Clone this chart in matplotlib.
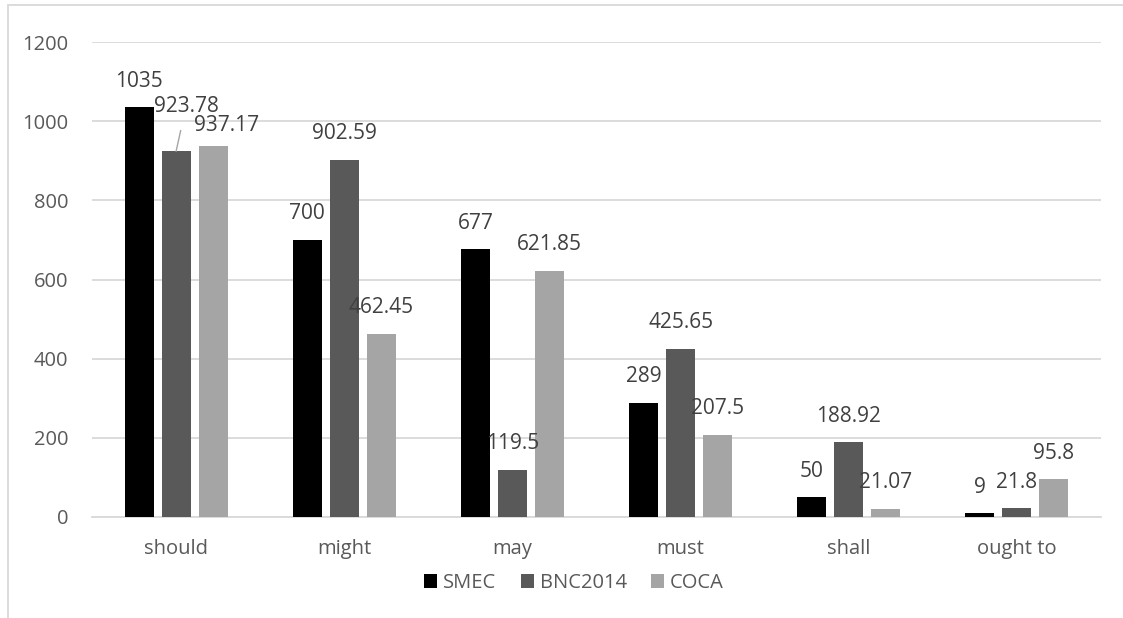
import matplotlib.pyplot as plt
from matplotlib.patches import Rectangle
import numpy as np

# data
modals = ["should", "might", "may", "must", "shall", "ought to"]
smec = [1035, 700, 677, 289, 50, 9]
bnc2014 = [923.78, 902.59, 119.5, 425.65, 188.92, 21.8]
coca = [937.17, 462.45, 621.85, 207.5, 21.07, 95.8]
series_names = ["SMEC", "BNC2014", "COCA"]
yticks = [0, 200, 400, 600, 800, 1000, 1200]


def main():
    plt.rcParams["font.family"] = ["Open Sans", "DejaVu Sans"]
    fig = plt.figure(figsize=(11.23, 6.18), dpi=100)
    ax = fig.add_axes([92 / 1123, (618 - 517) / 618, (1101 - 92) / 1123, (517 - 42) / 618])

    colors = ["#000000", "#595959", "#A5A5A5"]
    offsets = [-0.22, 0, 0.22]
    width = 0.173
    x = np.arange(len(modals))

    # labels that Excel moved by hand (offsets in pixels)
    moved = {(0, 1): (10, 45), (0, 2): (13, 21)}

    for s, vals in enumerate([smec, bnc2014, coca]):
        ax.bar(x + offsets[s], vals, width, color=colors[s], label=series_names[s], zorder=3)
        for i, v in enumerate(vals):
            dx, dy = moved.get((i, s), (0, 26))
            arrow = None
            if (i, s) == (0, 1):
                arrow = dict(arrowstyle="-", color="#A5A5A5", lw=1, shrinkA=8, shrinkB=0)
            ax.annotate(f"{v:g}", (x[i] + offsets[s], v), xytext=(dx * 0.72, dy * 0.72),
                        textcoords="offset points", ha="center", va="center",
                        fontsize=15, color="#404040", arrowprops=arrow, zorder=4)

    ax.set_xlim(-0.5, len(modals) - 0.5)
    ax.set_ylim(0, 1200)
    ax.set_yticks(yticks)
    ax.set_xticks(x)
    ax.set_xticklabels(modals)
    ax.tick_params(axis="both", length=0, labelsize=14.5, labelcolor="#595959")
    ax.tick_params(axis="y", pad=17)
    ax.tick_params(axis="x", pad=16)
    ax.grid(axis="y", color="#D9D9D9", lw=1.3, zorder=0)
    for side in ["top", "right", "left"]:
        ax.spines[side].set_visible(False)
    ax.spines["bottom"].set_color("#D9D9D9")
    ax.spines["bottom"].set_linewidth(1.3)

    ax.legend(loc="center", bbox_to_anchor=(574 / 1123, 1 - 583 / 618),
              bbox_transform=fig.transFigure, ncol=3, frameon=False,
              fontsize=14.5, labelcolor="#595959", handlelength=0.65, handleheight=0.65,
              handletextpad=0.3, columnspacing=1.2)

    # chart area border (cut off at right and bottom)
    fig.patches.append(Rectangle((8 / 1123, -0.5), 2, 1.5 - 5 / 618, transform=fig.transFigure,
                                 fill=False, edgecolor="#D9D9D9", lw=1.3))

    plt.savefig("out.png")


main()
